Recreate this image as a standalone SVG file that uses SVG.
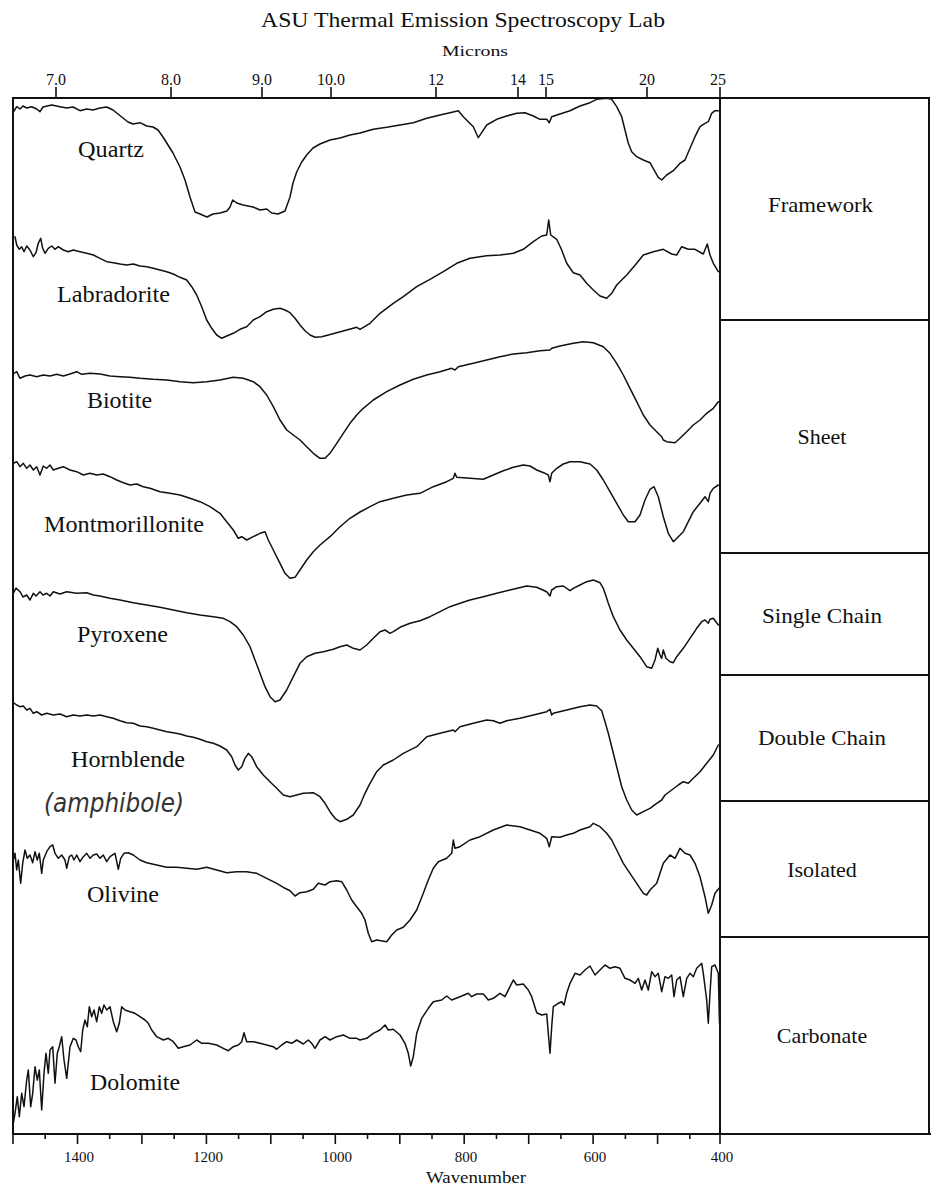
<svg xmlns="http://www.w3.org/2000/svg" width="931" height="1198" viewBox="0 0 931 1198">
<style>
text{font-family:"Liberation Serif","Times New Roman",serif;fill:#111}
.lbl{font-size:23px}
.cls{font-size:22px}
.tk{font-size:16px;text-anchor:middle}
.bt{font-size:15px;text-anchor:middle}
.frame{fill:none;stroke:#111;stroke-width:2}
.tick{stroke:#111;stroke-width:1.6}
.sp{fill:none;stroke:#111;stroke-width:1.5;stroke-linejoin:round;stroke-linecap:round}
.hand{font-family:"DejaVu Sans",sans-serif;font-style:oblique;font-size:26px;fill:#333}
</style>
<rect width="931" height="1198" fill="#fff"/>
<g id="title">
<text x="261" y="27" font-size="21" textLength="404" lengthAdjust="spacingAndGlyphs">ASU Thermal Emission Spectroscopy Lab</text>
<text x="442" y="56" font-size="15" textLength="66" lengthAdjust="spacingAndGlyphs">Microns</text>
</g>
<g id="top-axis">
<g class="tick">
<line x1="56" y1="87" x2="56" y2="98"/><line x1="171" y1="87" x2="171" y2="98"/><line x1="262" y1="87" x2="262" y2="98"/><line x1="331" y1="87" x2="331" y2="98"/><line x1="436" y1="87" x2="436" y2="98"/><line x1="518" y1="87" x2="518" y2="98"/><line x1="546" y1="87" x2="546" y2="98"/><line x1="647" y1="87" x2="647" y2="98"/><line x1="720" y1="87" x2="720" y2="98"/>
</g>
<text class="tk" x="56" y="85">7.0</text><text class="tk" x="171" y="85">8.0</text><text class="tk" x="262" y="85">9.0</text><text class="tk" x="331" y="85">10.0</text><text class="tk" x="436" y="85">12</text><text class="tk" x="518" y="85">14</text><text class="tk" x="546" y="85">15</text><text class="tk" x="647" y="85">20</text><text class="tk" x="718" y="85">25</text>
</g>
<g id="frame">
<line class="frame" x1="12" y1="98" x2="930" y2="98"/>
<line class="frame" x1="13" y1="97" x2="13" y2="1135"/>
<line class="frame" x1="720" y1="98" x2="720" y2="1134"/>
<line class="frame" x1="929" y1="97" x2="929" y2="1135"/>
<line class="frame" x1="12" y1="1134" x2="931" y2="1134"/>
</g>
<g id="class-panel">
<g class="frame">
<line x1="720" y1="320" x2="929" y2="320"/><line x1="720" y1="553" x2="929" y2="553"/><line x1="720" y1="675" x2="929" y2="675"/><line x1="720" y1="801" x2="929" y2="801"/><line x1="720" y1="937" x2="929" y2="937"/>
</g>
<text class="cls" x="768" y="212" textLength="105" lengthAdjust="spacingAndGlyphs">Framework</text>
<text class="cls" x="822" y="444" text-anchor="middle">Sheet</text>
<text class="cls" x="762" y="623" textLength="120" lengthAdjust="spacingAndGlyphs">Single Chain</text>
<text class="cls" x="758" y="745" textLength="128" lengthAdjust="spacingAndGlyphs">Double Chain</text>
<text class="cls" x="822" y="877" text-anchor="middle">Isolated</text>
<text class="cls" x="822" y="1043" text-anchor="middle">Carbonate</text>
</g>
<g id="bottom-axis">
<g class="tick">
<line x1="13" y1="1134" x2="13" y2="1144"/><line x1="45.2" y1="1134" x2="45.2" y2="1139"/><line x1="77.5" y1="1134" x2="77.5" y2="1144"/><line x1="109.7" y1="1134" x2="109.7" y2="1139"/><line x1="141.9" y1="1134" x2="141.9" y2="1144"/><line x1="174.2" y1="1134" x2="174.2" y2="1139"/><line x1="206.4" y1="1134" x2="206.4" y2="1144"/><line x1="238.6" y1="1134" x2="238.6" y2="1139"/><line x1="270.8" y1="1134" x2="270.8" y2="1144"/><line x1="303.1" y1="1134" x2="303.1" y2="1139"/><line x1="335.3" y1="1134" x2="335.3" y2="1144"/><line x1="367.5" y1="1134" x2="367.5" y2="1139"/><line x1="399.8" y1="1134" x2="399.8" y2="1144"/><line x1="432" y1="1134" x2="432" y2="1139"/><line x1="464.2" y1="1134" x2="464.2" y2="1144"/><line x1="496.5" y1="1134" x2="496.5" y2="1139"/><line x1="528.7" y1="1134" x2="528.7" y2="1144"/><line x1="560.9" y1="1134" x2="560.9" y2="1139"/><line x1="593.1" y1="1134" x2="593.1" y2="1144"/><line x1="625.4" y1="1134" x2="625.4" y2="1139"/><line x1="657.6" y1="1134" x2="657.6" y2="1144"/><line x1="689.8" y1="1134" x2="689.8" y2="1139"/><line x1="720" y1="1134" x2="720" y2="1144"/>
</g>
<text class="bt" x="79" y="1162">1400</text><text class="bt" x="208" y="1162">1200</text><text class="bt" x="337" y="1162">1000</text><text class="bt" x="466" y="1162">800</text><text class="bt" x="595" y="1162">600</text><text class="bt" x="722" y="1162">400</text>
<text x="426" y="1183" font-size="17" textLength="100" lengthAdjust="spacingAndGlyphs">Wavenumber</text>
</g>
<g id="spectra">
<g id="quartz">
<polyline class="sp" points="14,111 16.7,106.7 20,109 23,106 26.7,108 31.7,106.7 36.7,109 40,111.7 43,107 51.7,105 60,106.7 66.7,108 73,107 80,110.7 86.7,109 93,110 100,108 106.7,107 113,110 118,114 123,118 128,122 133,124 140,122.7 146.7,126 153,127 158,130 163,137 168,145 173,153 180,167 185,180 190,197 195,212 200,214 207,217 213,214 220,213 227,211 230,207 232.7,200 236.7,203 243,205 253,207 260,210 266.7,209 271.7,213 278,214 285,211 290,197 293,183 296.7,172 301.7,162 306.7,155 313,148 320,144 330,140 340,138 350,135 360,133 373.3,129.3 386.7,127.3 400,125 413.3,122.7 426.7,118.3 440,115 450,112.7 458.3,110.7 463.3,116.7 468.3,121.7 473.3,126.7 478.3,137.7 481.7,132.7 486.7,125 496.7,119.3 506.7,116 516.7,113.3 525,112.7 533.3,116 540,119.3 546.7,119.3 549.3,122.7 551.7,116.7 560,114 570,110.7 580,106 590,102.7 596.7,99.3 606.7,98.3 611.7,99.3 616.7,106.7 621.7,116.7 625,130 628.3,143.3 631.7,151.7 636.7,156.7 643.3,160 650,162.7 655,171.7 658.3,177.3 661.7,180 666.7,175 673.3,170.7 680,163.3 685,160 690,148.3 695,136.7 700,126.7 705,123.3 708.3,121.7 711.7,113.3 715,110.7 718.3,110.7"/>
<text class="lbl" x="78" y="157" textLength="66" lengthAdjust="spacingAndGlyphs">Quartz</text>
</g>
<g id="labradorite">
<polyline class="sp" points="15,236.7 16.7,245 19.3,249.3 21.7,246.7 24,251.7 26.7,246 30,250 33.3,256.7 36,252.7 38.3,243.3 40.7,238.3 42.7,248.3 45,253.3 48.3,248.3 51.7,246 55,249.3 58.3,246.7 63.3,250 68.3,251.7 73.3,250 80,251.7 86.7,253.3 93.3,255 100,258.3 106.7,261.7 113.3,262.7 120,264 126.7,265 133.3,264 140,266 146.7,266.7 153.3,268.3 160,270 166.7,271.7 173.3,274 180,277.3 186.7,280 191.7,286.7 196.7,295 201.7,306.7 206.7,320 211.7,328.3 216.7,335 221.7,338.3 226.7,336 233.3,333.3 240,329.3 246.7,326.7 253.3,320 260,316.7 266.7,311.7 273.3,309.3 280,308.3 285,310 290,312.7 295,318.3 300,325 305,330.7 310,335 315,337.3 321.7,336.7 328.3,335 336.7,332.7 346.7,330 356.7,327.3 360,329.3 370,323.3 380,313.3 393.3,303.3 403.3,296.7 416.7,286.7 430,279.3 443.3,271.7 456.7,263.3 470,258.3 486.7,255.7 500,255 513.3,253.3 523.3,249.3 533.3,241.7 541.7,236 546.7,235 548.7,220 550.7,235 556.7,239.3 561.7,250 566.7,263.3 573.3,272.7 580,275 586.7,283.3 593.3,290 600,296 606.7,298.3 611.7,293.3 616.7,285 626.7,275 636.7,263.3 643.3,255 653.3,251.7 663.3,249.3 671.7,254 676.7,255 681.7,246.7 688.3,249.3 695,249.3 703.3,254 707.3,244 710,255 713.3,263.3 718.3,271.7"/>
<text class="lbl" x="57" y="302" textLength="113" lengthAdjust="spacingAndGlyphs">Labradorite</text>
</g>
<g id="biotite">
<polyline class="sp" points="14,373.3 16.7,371.7 20,378.3 25,376 30,375 36.7,376.7 43.3,375 50,376 56.7,374.3 63.3,376 70,374 76.7,371.7 81.7,374.3 90,373.3 100,374 110,376 120,376.7 130,377.3 140,378.3 153.3,379.3 166.7,380 180,381.7 193.3,382.7 206.7,381.7 220,380 233.3,377.3 243.3,378.3 253.3,381.7 260,386.7 266.7,395 273.3,406.7 280,420 286.7,430 293.3,435 300,440 306.7,446.7 313.3,453.3 320,458.3 325,458.3 330,453.3 336.7,443.3 343.3,433.3 350,423.3 356.7,415 363.3,408.3 373.3,400 386.7,391.7 400,385 413.3,379.3 426.7,375 440,371.7 451.7,368.3 455,370 458.3,366.7 473.3,363.3 486.7,360 500,356.7 513.3,354 526.7,352.7 540,350.7 550,350 551.7,348.3 560,346 573.3,343.3 583.3,341.7 593.3,342.7 603.3,346.7 610,353.3 616.7,363.3 623.3,375 630,388.3 636.7,401.7 643.3,415 650,425 656.7,431.7 661.7,436.7 663.3,440 666.7,441.7 675,442.7 680,438.3 686.7,431.7 693.3,425 700,420 706.7,413.3 713.3,408.3 718.3,401.7"/>
<text class="lbl" x="87" y="408" textLength="65" lengthAdjust="spacingAndGlyphs">Biotite</text>
</g>
<g id="montmorillonite">
<polyline class="sp" points="13.3,463.3 16.7,461.7 20,466.7 23.3,463.3 26.7,468.3 30,465 33.3,470 36.7,466.7 40,475 43.3,466 46.7,468.3 50,465 53.3,470 58.3,468.3 63.3,466.7 70,470 76.7,471.7 83.3,475 90,473.3 96.7,475 103.3,474 110,476.7 116.7,480 123.3,482.7 130,485 136.7,484 143.3,486.7 150,488.3 160,491.7 170,493.3 180,495 190,498.3 200,501.7 210,506.7 220,513.3 226.7,521.7 233.3,530 238.3,538.3 241.7,536.7 246.7,540 253.3,536.7 260,533.3 265,531.7 268.3,540 273.3,550 280,563.3 285,573.3 290,578.3 295,577.3 300,570 306.7,560 313.3,551.7 320,545 330,536.7 340,526.7 350,518.3 360,512 370,506.7 380,501.7 393.3,498.3 406.7,495 420,493.3 433.3,486.7 446.7,481.7 453.3,478.3 455,473.3 456.7,477.3 470,478.3 483.3,479.3 493.3,475 503.3,470.7 513.3,467.3 523.3,465 530,466 536.7,470 545,473.3 548.3,475 550,481.7 551.7,473.3 556.7,468.3 563.3,464 570,461.7 580,461.7 590,464 596.7,470 603.3,480 610,491.7 616.7,503.3 623.3,515 628.3,521.7 635,521.7 640,515 645,500 650,489.3 654,486.7 658.3,496.7 663.3,516.7 668.3,533.3 673.3,541.7 678.3,536.7 683.3,531.7 688.3,521.7 693.3,511.7 700,503.3 705,496.7 708.3,501.7 710,493.3 713.3,488.3 718.3,485"/>
<text class="lbl" x="44" y="532" textLength="160" lengthAdjust="spacingAndGlyphs">Montmorillonite</text>
</g>
<g id="pyroxene">
<polyline class="sp" points="13.3,593.3 16,588 20,591.7 23,597 26.7,595 30,600 33.3,593.3 36,596 40,591.7 43,595 46.7,593.3 50,596 53.3,591.7 60,594 66.7,591.7 76.7,593.3 86.7,592.7 93.3,595 100,596 110,598.3 120,600 133.3,602.7 146.7,605 160,607.3 173.3,610 186.7,612.7 200,615 213.3,616.7 223.3,618.3 230,621.7 236.7,626.7 243.3,635 250,646.7 255,660 260,673.3 265,686.7 270,696.7 275,701.7 280,700 286.7,690 293.3,676.7 300,663.3 306.7,656.7 315,653.3 323.3,651.7 333.3,649.3 340,646.7 346.7,645 353.3,648.3 360,650 366.7,645 373.3,638.3 380,631.7 385,630 390,633.3 393.3,631.7 400,627.3 410,623.3 420,620.7 430,616.7 440,611.7 450,606.7 460,603.3 470,600 483.3,596.7 496.7,593.3 510,590 526.7,586 536.7,587.3 546.7,591.7 550,596 551.7,590 556.7,586.7 563.3,586 570,590.7 573.3,588.3 580,585 586.7,581.7 593.3,580 600,582.7 603.3,588.3 606.7,598.3 608.3,603.3 613.3,616.7 620,630 626.7,640 633.3,648.3 640,656.7 646.7,666.7 651.7,668.3 655,660 657.7,648.3 660,655 661.7,658.3 663.3,650 666,658.3 670,661.7 673.3,662.7 676.7,656.7 683.3,648.3 690,638.3 696.7,628.3 701.7,621.7 705,620 708.3,623.3 710,619.3 713.3,618.3 718.3,625"/>
<text class="lbl" x="77" y="642" textLength="91" lengthAdjust="spacingAndGlyphs">Pyroxene</text>
</g>
<g id="hornblende">
<polyline class="sp" points="13.3,702.7 16.7,705 20,706.7 23.3,706 26.7,710 30,708.3 33.3,713.3 36.7,711.7 41.7,715 46.7,713.3 53.3,715 60,714 66.7,716.7 73.3,715 80,716 86.7,715 93.3,716 100,715 106.7,716.7 113.3,718.3 120,720.7 126.7,722.7 133.3,723.3 140,726 146.7,726.7 153.3,728.3 160,730 166.7,731.7 173.3,732.7 180,734 186.7,736 193.3,737.3 200,739.3 206.7,741.7 213.3,743.3 220,746 226.7,750 231.7,756.7 235,765 238.3,770 241.7,766.7 245,758.3 248.3,753.3 251.7,756.7 256.7,766.7 263.3,775 270,781.7 276.7,788.3 283.3,795 290,796.7 296.7,795 303.3,793.3 313.3,792.7 320,796.7 325,803.3 330,811.7 335,818.3 340,821.7 346.7,819.3 353.3,815 360,805 365,793.3 370,783.3 376.7,771.7 383.3,765 393.3,760 403.3,753.3 416.7,746.7 426.7,736.7 440,733.3 453.3,730 455,731.7 460,726.7 473.3,723.3 486.7,720 493.3,720.7 500,723.3 506.7,720.7 520,718.3 533.3,715 546.7,711.7 550,709.3 551.7,715 553.3,713.3 566.7,710 580,706.7 590,705 596.7,706 601.7,710.7 605,721.7 608.3,733.3 611.7,746.7 615,760 618.3,773.3 621.7,786.7 626.7,800 631.7,810 636.7,815 643.3,811.7 650,808.3 656.7,803.3 661.7,800 665,795 671.7,790 678.3,785 683.3,781.7 688.3,783.3 693.3,778.3 700,771.7 706.7,763.3 713.3,755 718.3,745"/>
<text class="lbl" x="71" y="767" textLength="114" lengthAdjust="spacingAndGlyphs">Hornblende</text>
<text class="hand" x="44" y="812" textLength="140" lengthAdjust="spacingAndGlyphs">(amphibole)</text>
</g>
<g id="olivine">
<polyline class="sp" points="13.3,860 15,853.3 16.7,870 18.3,860 20.7,883.3 22.7,863.3 25,850 27.3,858.3 30,855 32.7,862.7 35,851.7 37.3,860 39.3,853.3 41.7,873.3 43.3,860 46.7,851.7 50,846.7 52.7,845 55,853.3 58.3,858.3 61.7,855 65,860 66.7,868.3 69.3,856.7 71.7,855 74,860 76.7,855 80,861.7 83.3,856.7 86.7,853.3 90,858.3 93.3,855 96.7,854 100,858.3 103.3,855 106.7,861.7 110,856.7 115,853.3 118.3,869.3 120.7,858.3 124,853.3 128.3,852.7 133.3,855 140,860 146.7,862.7 156.7,865 166.7,867.3 176.7,867.3 186.7,868.3 196.7,869.3 206.7,867.3 216.7,870 226.7,872.7 236.7,871.7 246.7,871.7 256.7,873.3 266.7,878.3 276.7,883.3 285,888.3 290,890.7 295,896 300,892.7 306.7,891.7 313.3,889.3 318.3,883.3 325,885 330,881.7 336.7,880.7 341.7,881.7 346.7,890 351.7,900 356.7,906.7 361.7,913.3 365,920 368.3,933.3 371.7,941.7 376.7,940 386.7,941.7 391.7,935 396.7,930 403.3,927.3 410,920 416.7,910 423.3,893.3 428.3,880 433.3,868.3 438.3,861.7 446.7,858.3 451.7,853.3 453.3,840 455,848.3 460,846.7 470,840 480,836.7 493.3,830 506.7,825 520,826.7 530,830 540,833.3 546.7,838.3 549.3,846.7 551.7,836.7 560,837.3 566.7,835 573.3,833.3 580,830 590,826.7 593.3,823.3 600,826.7 606.7,833.3 611.7,840 616.7,850 623.3,863.3 630,873.3 636.7,883.3 643.3,893.3 646.7,895 650,890 656.7,883.3 663.3,863.3 670,855 675,858.3 680,848.3 685,853.3 690,855 695,863.3 700,876.7 705,896.7 708.3,913.3 711.7,905 715,893.3 719,888.3"/>
<text class="lbl" x="87" y="902" textLength="72" lengthAdjust="spacingAndGlyphs">Olivine</text>
</g>
<g id="dolomite">
<polyline class="sp" points="13.3,1123.3 15,1113.3 17.3,1096.7 19.3,1116.7 21.7,1093.3 24,1106.7 26.7,1080 28.3,1070 30.7,1106.7 32.7,1093.3 35,1066.7 37.3,1080 39.3,1070 41.7,1110 44,1073.3 46,1053.3 48.3,1073.3 50,1050 52.7,1046.7 55,1083.3 57.3,1053.3 59.3,1046.7 61.7,1036.7 64,1060 66.7,1078.3 70,1046.7 73.3,1038.3 76,1040 78.3,1046.7 80.7,1051.7 82.7,1030 85,1020 87.3,1026.7 89.3,1006.7 91.7,1016.7 94,1010 96.7,1021.7 99.3,1006.7 101.7,1013.3 104,1005 106.7,1010 110,1006.7 113.3,1021.7 116.7,1031.7 119.3,1023.3 121.7,1006.7 125,1010 130,1011.7 135,1013.3 140,1016.7 145,1020 148.3,1023.3 151.7,1030 156.7,1036.7 163.3,1040 168.3,1038.3 173.3,1041.7 178.3,1048.3 183.3,1046.7 190,1045 196.7,1040 201.7,1043.3 208.3,1043.3 216.7,1045 223.3,1048.3 228.3,1050.7 233.3,1046.7 238.3,1045 241.7,1041.7 244,1032.7 246.7,1041.7 253.3,1041.7 260,1043.3 266.7,1045 273.3,1046.7 276.7,1049.3 281.7,1045 286.7,1041.7 291.7,1043.3 296.7,1040 303.3,1044 308.3,1040 311.7,1043.3 315,1048.3 320,1040 325,1036.7 330,1040 336.7,1036.7 343.3,1035 350,1038.3 356.7,1038.3 360,1040 366.7,1038.3 373.3,1033.3 380,1030 385,1025 388.3,1030 393.3,1029.3 400,1035 405,1043.3 408.3,1053.3 410.7,1066 413.3,1056.7 416.7,1033.3 421.7,1018.3 428.3,1008.3 433.3,1001.7 441.7,1000 446.7,996 451.7,1000 460,996.7 468.3,993.3 471.7,996.7 476.7,994 483.3,994 488.3,1000 493.3,998.3 500,993.3 505,996.7 510,986.7 513.3,980 516.7,985 523.3,984 528.3,990 531.7,996.7 536.7,1012.7 541.7,1015 546.7,1014 548.3,1033.3 550,1053.3 551.7,1026.7 553.3,1006.7 558.3,1003.3 561.7,1001.7 564,1005 566.7,993.3 570,983.3 575,973.3 580,975 585,970 590,966 595,975 600,970 605,965 610,968.3 615,966.7 620,968.3 625,978.3 630,980 635,983.3 638.3,978.3 641.7,990 645,980 648.3,990 651.7,971.7 655,976.7 658.3,973.3 661.7,991.7 665,976.7 668.3,978.3 671.7,975 674,996.7 676.7,980 680,976.7 683.3,996.7 686.7,978.3 690,973.3 693.3,976.7 696.7,968.3 700,965 701.7,963.3 703.3,973.3 706.7,1000 708.3,1023.3 710,993.3 711.7,966.7 715,965 718.3,973.3 719.5,1023.3"/>
<text class="lbl" x="90" y="1090" textLength="90" lengthAdjust="spacingAndGlyphs">Dolomite</text>
</g>
</g>
</svg>
